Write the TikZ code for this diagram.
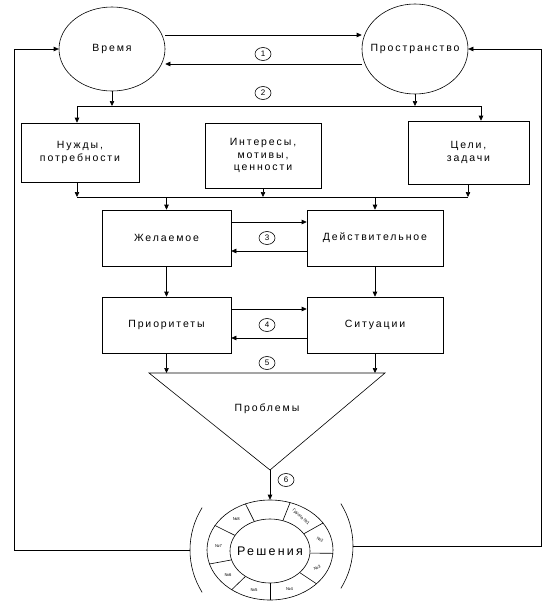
\documentclass[tikz,border=0pt]{standalone}
\usepackage{fontspec}
\setmainfont{Liberation Sans}
\newfontfamily\widesans[LetterSpace=18]{Liberation Sans}
\usetikzlibrary{positioning,calc,shapes.geometric,arrows.meta}
\tikzset{
  arr/.style={-{Triangle[length=5pt,width=4.5pt]}},
  txt/.style={inner sep=0pt,align=center,font=\widesans\fontsize{10.5}{12.5}\selectfont},
  blk/.style={txt,draw},
  oval/.style={draw,ellipse,inner sep=0pt},
  num/.style={draw,ellipse,minimum width=16pt,minimum height=13pt,inner sep=0pt,font=\fontsize{8}{8}\selectfont},
  seg/.style={inner sep=0pt,font=\fontsize{4.2}{5}\selectfont},
}
\begin{document}
\begin{tikzpicture}[x=1pt,y=-1pt,line width=0.6pt]
  \useasboundingbox (0,0) rectangle (555,608);
  % time and space
  \node[oval,minimum width=106pt,minimum height=84pt] (vremya) at (112,49) {};
  \node[oval,minimum width=106pt,minimum height=90pt] (prostr) at (415,49) {};
  \node[txt] (vremyalbl) at (vremya) {Время};
  \node[txt] (prostrlbl) at (prostr) {Пространство};
  \draw[arr] ([yshift=14pt]vremya.east) -- ([yshift=14pt]prostr.west);
  \draw[arr] ([yshift=-15pt]prostr.west) -- ([yshift=-15pt]vremya.east);
  \node[num] (n1) at (263,54) {1};
  \node[num] (n2) at (263,93) {2};
  \coordinate (d1) at (77,106);
  \coordinate (d2) at (481,106);
  \draw (d1) -- (d2);
  \draw[arr] (vremya.south) -- (vremya.south |- d1);
  \draw[arr] (prostr.south) -- (prostr.south |- d1);
  % first row
  \node[blk,minimum width=118pt,minimum height=59pt] (nuzhdy) at (80,152.5) {Нужды,\\потребности};
  \node[blk,minimum width=116pt,minimum height=65pt] (inter) at (263,155.5) {Интересы,\\мотивы,\\ценности};
  \node[blk,minimum width=121pt,minimum height=63pt] (celi) at (468.5,152.5) {Цели,\\задачи};
  \draw[arr] (d1) -- (d1 |- nuzhdy.north);
  \draw[arr] (d2) -- (d2 |- celi.north);
  \coordinate (g1) at (77,197);
  \coordinate (g2) at (468,197);
  \draw (g1) -- (g2);
  \draw[arr] (nuzhdy.south -| g1) -- (g1);
  \draw[arr] (inter.south) -- (inter.south |- g1);
  \draw[arr] (celi.south -| g2) -- (g2);
  % desired / actual
  \node[blk,minimum width=129pt,minimum height=56pt] (zhel) at (166.5,238) {Желаемое};
  \node[blk,minimum width=136pt,minimum height=56pt] (deistv) at (375,238) {Действительное};
  \draw[arr] (g1 -| zhel.north) -- (zhel.north);
  \draw[arr] (g1 -| deistv.north) -- (deistv.north);
  \draw[arr] ([yshift=16pt]zhel.east) -- ([yshift=16pt]deistv.west);
  \draw[arr] ([yshift=-13pt]deistv.west) -- ([yshift=-13pt]zhel.east);
  \node[num] (n3) at (267,238) {3};
  % priorities / situations
  \node[blk,minimum width=129pt,minimum height=56pt] (prior) at (166.5,325) {Приоритеты};
  \node[blk,minimum width=136pt,minimum height=56pt] (situ) at (375,325) {Ситуации};
  \draw[arr] (zhel) -- (prior);
  \draw[arr] (deistv) -- (situ);
  \draw[arr] ([yshift=16pt]prior.east) -- ([yshift=16pt]situ.west);
  \draw[arr] ([yshift=-13pt]situ.west) -- ([yshift=-13pt]prior.east);
  \node[num] (n4) at (267,325) {4};
  \node[num] (n5) at (267,363) {5};
  % problems funnel
  \coordinate (tl) at (149,373);
  \coordinate (tr) at (385,373);
  \coordinate (apex) at (270,470);
  \draw (tl) -- (tr) -- (apex) -- cycle;
  \draw[arr] (prior.south) -- (prior.south |- tl);
  \draw[arr] (situ.south) -- (situ.south |- tl);
  \node[txt] (probl) at (267,409) {Проблемы};
  \node[num] (n6) at (286,480) {6};
  % solutions ring
  \node[oval,minimum width=126pt,minimum height=100pt] (outer) at (270,550) {};
  \node[oval,minimum width=80pt,minimum height=64pt] (inner) at (270,551) {};
  \node[txt,font=\widesans\fontsize{12.5}{13}\selectfont] (resh) at (inner) {Решения};
  \draw[arr] (apex) -- (apex |- outer.north);
  \foreach \a in {27,67,118,156,193,226,270,324,357}
    \draw (inner.\a) -- (outer.\a);
  \foreach \a/\t/\r in {47/{Группа\kern1.2pt №1}/-42, 12/№2/-25, 340/№3/20, 297/№4/0,
                        248/№5/0, 210/№6/0, 175/№7/0, 137/№8/0}
    \node[seg,rotate=\r] (s\a) at ($(inner.\a)!0.5!(outer.\a)$) {\t};
  % brackets and feedback
  \coordinate (lp) at (190,550);
  \coordinate (rp) at (353,546);
  \draw (lp) arc[start angle=180,end angle=148,radius=80pt];
  \draw (lp) arc[start angle=180,end angle=212,radius=80pt];
  \draw (rp) arc[start angle=0,end angle=32,radius=80pt];
  \draw (rp) arc[start angle=0,end angle=-32,radius=80pt];
  \coordinate (fbl) at (14,550);
  \coordinate (fbr) at (541,546);
  \draw[arr] (lp) -- (fbl) |- (vremya.west);
  \draw[arr] (rp) -- (fbr) |- (prostr.east);
\end{tikzpicture}
\end{document}
